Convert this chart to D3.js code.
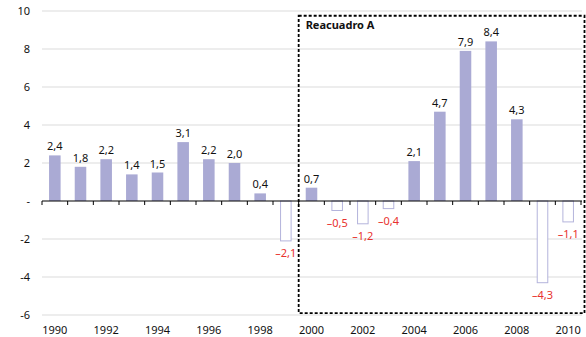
<!DOCTYPE html>
<html>
<head>
<meta charset="utf-8">
<script src="https://cdn.jsdelivr.net/npm/d3@7"></script>
<style>
  html, body { margin: 0; padding: 0; background: #fff; }
  svg { display: block; font-family: "Noto Sans", "Open Sans", sans-serif; }
</style>
</head>
<body>
<svg id="chart" width="586" height="337"></svg>
<script>
// Annual values, 1990–2010
const years = d3.range(1990, 2011);
const values = [2.4, 1.8, 2.2, 1.4, 1.5, 3.1, 2.2, 2.0, 0.4, -2.1, 0.7, -0.5, -1.2, -0.4, 2.1, 4.7, 7.9, 8.4, 4.3, -4.3, -1.1];
const yTicks = [10, 8, 6, 4, 2, 0, -2, -4, -6];
const xTickLabels = [1990, 1992, 1994, 1996, 1998, 2000, 2002, 2004, 2006, 2008, 2010];
const boxTitle = "Reacuadro A";
const boxFirstYear = 2000;

const svg = d3.select("#chart");
const plotLeft = 42, plotRight = 581, plotTop = 11, plotBottom = 315;

const x = d3.scaleBand().domain(years).range([plotLeft, plotRight]).paddingInner(0.55).paddingOuter(0.275);
const y = d3.scaleLinear().domain([-6, 10]).range([plotBottom, plotTop]);

const fmt = v => (v < 0 ? "\u2013" : "") + Math.abs(v).toFixed(1).replace(".", ",");

// Horizontal gridlines
svg.append("g").selectAll("line")
  .data(yTicks.filter(d => d !== 0))
  .join("line")
  .attr("x1", plotLeft).attr("x2", plotRight + 1)
  .attr("y1", d => y(d)).attr("y2", d => y(d))
  .attr("stroke", "#dcdcdc").attr("stroke-width", 1.2);

// Y axis labels (zero shown as a dash)
svg.append("g").selectAll("text")
  .data(yTicks)
  .join("text")
  .attr("x", 30).attr("y", d => y(d) + 4)
  .attr("text-anchor", "end")
  .attr("font-size", 11).attr("fill", "#111")
  .text(d => d === 0 ? "-" : (d < 0 ? "-" + Math.abs(d) : d));

// Bars
svg.append("g").selectAll("rect")
  .data(years.map((yr, i) => ({ yr, v: values[i] })))
  .join("rect")
  .attr("x", d => x(d.yr) + (d.v < 0 ? 0.5 : 0))
  .attr("width", d => x.bandwidth() - (d.v < 0 ? 1 : 0))
  .attr("y", d => d.v >= 0 ? y(d.v) : y(0))
  .attr("height", d => Math.abs(y(d.v) - y(0)))
  .attr("fill", d => d.v >= 0 ? "#aaaad4" : "#fff")
  .attr("stroke", d => d.v >= 0 ? "none" : "#b4b4dc")
  .attr("stroke-width", 1);

// Value labels
svg.append("g").selectAll("text")
  .data(years.map((yr, i) => ({ yr, v: values[i] })))
  .join("text")
  .attr("x", d => x(d.yr) + x.bandwidth() / 2)
  .attr("y", d => d.v >= 0 ? y(d.v) - 5 : y(d.v) + 16)
  .attr("text-anchor", "middle")
  .attr("font-size", 11)
  .attr("fill", d => d.v >= 0 ? "#111" : "#e8322e")
  .text(d => fmt(d.v));

// Zero axis with ticks at band boundaries
const step = x.step();
const axis = svg.append("g");
axis.append("line")
  .attr("x1", plotLeft).attr("x2", plotRight + 1)
  .attr("y1", y(0)).attr("y2", y(0))
  .attr("stroke", "#000").attr("stroke-width", 1.2);
axis.selectAll("line.tick")
  .data(d3.range(years.length + 1))
  .join("line").attr("class", "tick")
  .attr("x1", i => plotLeft + i * step).attr("x2", i => plotLeft + i * step)
  .attr("y1", y(0)).attr("y2", y(0) + 4)
  .attr("stroke", "#000").attr("stroke-width", 1);

// Year labels
svg.append("g").selectAll("text")
  .data(xTickLabels)
  .join("text")
  .attr("x", d => x(d) + x.bandwidth() / 2)
  .attr("y", 334)
  .attr("text-anchor", "middle")
  .attr("font-size", 11).attr("fill", "#111")
  .text(d => d);

// Dashed highlight box
const bx = plotLeft + years.indexOf(boxFirstYear) * step;
svg.append("rect")
  .attr("x", bx).attr("y", y(9.75))
  .attr("width", 584.5 - bx).attr("height", y(-5.9) - y(9.75))
  .attr("fill", "none").attr("stroke", "#000")
  .attr("stroke-width", 1.8).attr("stroke-dasharray", "3,2");
svg.append("text")
  .attr("x", bx + 7).attr("y", y(9.75) + 13)
  .attr("font-size", 11).attr("font-weight", "bold").attr("fill", "#111")
  .text(boxTitle);
</script>
</body>
</html>
